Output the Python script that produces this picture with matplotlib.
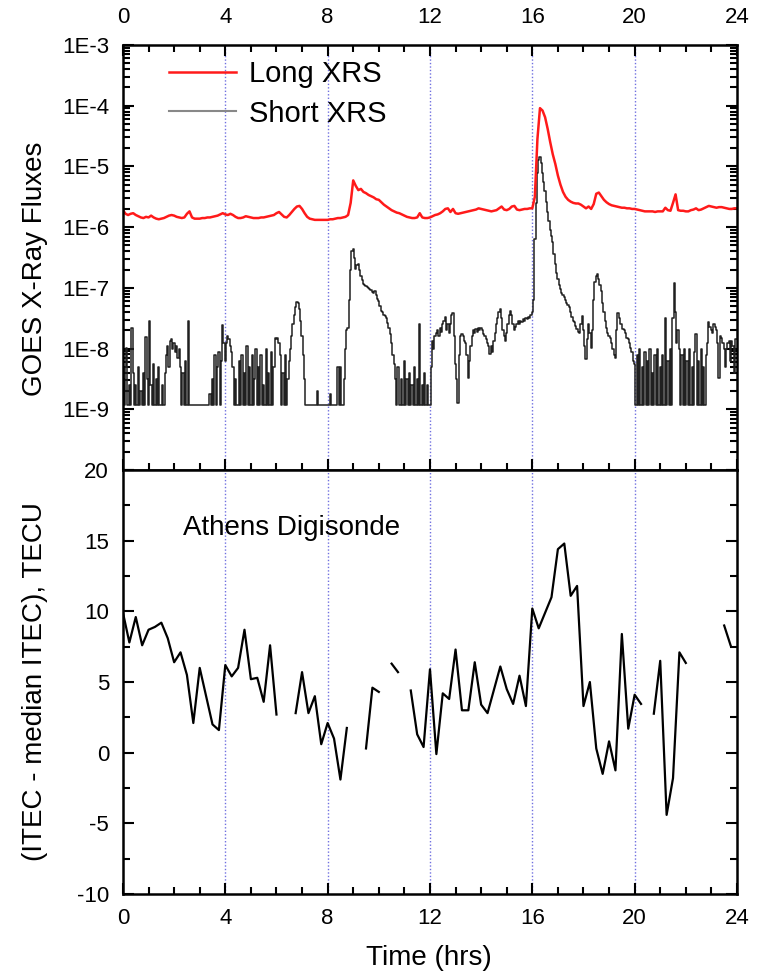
import numpy as np
import matplotlib
matplotlib.use('Agg')
import matplotlib.pyplot as plt
from matplotlib.lines import Line2D
from matplotlib.ticker import MultipleLocator, FixedLocator, FixedFormatter, LogLocator, NullFormatter

plt.rcParams['font.family'] = ['Liberation Sans', 'DejaVu Sans']
plt.rcParams['axes.unicode_minus'] = False

# GOES short channel, log10(flux), one value every 0.05 h (one row per hour)
short_log = [
    -8.5, -8.93, -8.3, -7.99, -8.93, -8.6, -8.93, -7.66, -8.4, -8.93, -8.6, -8.93, -8.3, -8.93, -8.7, -8.93, -8.4, -8.93, -7.81, -8.5,
    -8.93, -7.55, -8.6, -8.93, -8.25, -8.93, -8.5, -8.93, -8.3, -8.93, -8.93, -8.6, -8.93, -8.4, -8.1, -7.95, -8.3, -7.88, -7.84, -8.0,
    -7.9, -8.05, -7.95, -8.15, -8.0, -8.3, -8.93, -8.4, -8.93, -8.2, -8.93, -7.55, -8.93, -8.93, -8.93, -8.93, -8.93, -8.93, -8.93, -8.93,
    -8.93, -8.93, -8.93, -8.93, -8.93, -8.93, -8.93, -8.93, -8.75, -8.93, -8.5, -8.93, -8.1, -8.93, -8.3, -8.05, -8.93, -8.2, -7.61, -7.9,
    -8.2, -7.9, -7.8, -7.85, -7.95, -8.05, -8.3, -8.93, -8.5, -8.93, -8.93, -8.2, -8.93, -8.1, -8.93, -8.4, -8.93, -7.95, -8.93, -8.3,
    -8.93, -8.1, -8.93, -8.5, -8.0, -8.93, -8.3, -8.93, -8.1, -8.93, -8.6, -8.93, -8.0, -8.93, -8.4, -8.93, -8.05, -8.93, -8.3, -7.82,
    -7.85, -7.82, -7.9, -8.1, -8.93, -8.4, -8.93, -8.1, -8.93, -8.5, -8.2, -8.0, -7.8, -7.6, -7.45, -7.32, -7.24, -7.25, -7.35, -7.55,
    -7.8, -8.1, -8.5, -8.93, -8.93, -8.93, -8.93, -8.93, -8.93, -8.93, -8.93, -8.93, -8.7, -8.93, -8.93, -8.93, -8.93, -8.93, -8.93, -8.93,
    -8.93, -8.93, -8.75, -8.93, -8.93, -8.93, -8.93, -8.93, -8.3, -8.93, -8.3, -8.93, -8.93, -8.5, -8.0, -7.7, -7.66, -7.2, -6.7, -6.4,
    -6.36, -6.5, -6.69, -6.62, -6.6, -6.7, -6.8, -6.87, -6.93, -6.95, -6.97, -6.98, -7.0, -7.02, -7.04, -7.06, -7.08, -7.05, -7.12, -7.18,
    -7.22, -7.3, -7.38, -7.4, -7.44, -7.46, -7.5, -7.58, -7.66, -7.76, -7.9, -8.1, -8.25, -8.5, -8.93, -8.3, -8.93, -8.93, -8.5, -8.93,
    -8.2, -8.93, -8.5, -8.93, -8.4, -8.93, -8.6, -8.93, -8.3, -8.93, -8.5, -8.93, -7.59, -8.93, -8.6, -8.93, -8.4, -8.93, -8.6, -8.93,
    -8.93, -8.3, -7.87, -8.0, -7.8, -7.75, -7.7, -7.8, -7.66, -7.72, -7.6, -7.55, -7.48, -7.7, -7.6, -7.75, -7.6, -7.45, -7.41, -7.8,
    -8.25, -8.5, -8.9, -8.1, -7.8, -7.76, -7.8, -7.87, -7.9, -8.1, -8.48, -8.2, -7.95, -7.8, -7.7, -7.75, -7.68, -7.72, -7.66, -7.7,
    -7.66, -7.7, -7.76, -7.8, -7.85, -7.9, -7.95, -8.09, -7.95, -8.05, -7.87, -7.75, -7.6, -7.5, -7.4, -7.35, -7.5, -7.7, -7.8, -7.87,
    -7.75, -7.6, -7.45, -7.38, -7.45, -7.6, -7.7, -7.65, -7.6, -7.55, -7.6, -7.55, -7.57, -7.52, -7.55, -7.5, -7.52, -7.48, -7.5, -7.45,
    -7.4, -7.2, -6.2, -5.6, -5.1, -4.9, -4.84, -4.95, -5.1, -5.25, -5.4, -5.58, -5.75, -5.9, -6.05, -6.15, -6.25, -6.45, -6.6, -6.75,
    -6.85, -6.95, -7.02, -7.08, -7.12, -7.15, -7.2, -7.25, -7.28, -7.32, -7.4, -7.48, -7.55, -7.57, -7.62, -7.68, -7.72, -7.75, -7.6, -7.46,
    -7.7, -7.95, -8.17, -7.85, -7.6, -7.75, -7.99, -7.7, -7.2, -6.9, -6.8, -6.77, -6.85, -6.95, -7.05, -7.25, -7.4, -7.55, -7.66, -7.75,
    -7.8, -7.82, -7.9, -8.0, -8.1, -8.15, -7.7, -7.41, -7.5, -7.6, -7.6, -7.68, -7.7, -7.75, -7.82, -7.85, -7.9, -7.99, -8.05, -8.2,
    -8.25, -8.93, -8.1, -8.93, -8.0, -8.93, -8.3, -8.93, -8.05, -8.93, -8.2, -8.93, -8.0, -8.93, -8.4, -8.93, -8.1, -8.93, -8.0, -8.93,
    -8.3, -8.93, -8.1, -8.93, -7.49, -8.93, -8.2, -8.93, -8.0, -8.93, -7.5, -6.92, -7.4, -7.9, -7.7, -8.0, -8.93, -8.1, -8.93, -8.0,
    -8.93, -8.2, -8.93, -8.0, -8.93, -8.3, -8.93, -8.05, -7.76, -8.93, -8.2, -8.93, -8.0, -8.93, -8.3, -8.93, -8.1, -7.9, -7.57, -7.65,
    -7.7, -7.75, -7.6, -7.65, -7.7, -7.9, -8.48, -7.8, -7.82, -7.9, -8.0, -8.3, -8.0, -7.9, -7.87, -8.2, -7.87, -7.95, -8.4, -7.85,
    -7.85,
]

# GOES long channel, log10(flux), one value every 0.1 h
long_log = [
    -5.72, -5.78, -5.80, -5.78, -5.77, -5.80, -5.82, -5.84, -5.85, -5.83,
    -5.84, -5.81, -5.84, -5.86, -5.87, -5.86, -5.85, -5.83, -5.81, -5.80,
    -5.81, -5.83, -5.84, -5.85, -5.84, -5.78, -5.74, -5.84, -5.86, -5.86,
    -5.86, -5.85, -5.85, -5.84, -5.84, -5.83, -5.82, -5.81, -5.79, -5.77,
    -5.79, -5.80, -5.78, -5.80, -5.83, -5.85, -5.85, -5.84, -5.82, -5.83,
    -5.84, -5.85, -5.85, -5.85, -5.84, -5.84, -5.83, -5.82, -5.81, -5.80,
    -5.77, -5.75, -5.79, -5.83, -5.84, -5.80, -5.75, -5.70, -5.66, -5.65,
    -5.70, -5.77, -5.83, -5.86, -5.87, -5.88, -5.88, -5.88, -5.88, -5.88,
    -5.88, -5.87, -5.87, -5.86, -5.85, -5.85, -5.84, -5.83, -5.80, -5.60,
    -5.23, -5.32, -5.39, -5.37, -5.42, -5.44, -5.47, -5.49, -5.51, -5.54,
    -5.55, -5.59, -5.63, -5.66, -5.69, -5.72, -5.74, -5.76, -5.77, -5.79,
    -5.81, -5.83, -5.84, -5.85, -5.85, -5.84, -5.77, -5.84, -5.85, -5.85,
    -5.84, -5.82, -5.80, -5.79, -5.77, -5.74, -5.70, -5.69, -5.75, -5.70,
    -5.77, -5.78, -5.77, -5.76, -5.75, -5.74, -5.73, -5.72, -5.71, -5.69,
    -5.70, -5.71, -5.72, -5.73, -5.74, -5.73, -5.72, -5.69, -5.66, -5.71,
    -5.72, -5.70, -5.66, -5.65, -5.71, -5.72, -5.71, -5.70, -5.70, -5.69,
    -5.69, -5.50, -4.55, -4.04, -4.08, -4.19, -4.38, -4.60, -4.80, -4.96,
    -5.15, -5.30, -5.42, -5.50, -5.55, -5.58, -5.60, -5.61, -5.61, -5.63,
    -5.66, -5.69, -5.66, -5.70, -5.62, -5.45, -5.43, -5.49, -5.55, -5.59,
    -5.62, -5.64, -5.65, -5.66, -5.67, -5.68, -5.68, -5.69, -5.69, -5.70,
    -5.70, -5.71, -5.72, -5.73, -5.74, -5.74, -5.74, -5.74, -5.75, -5.74,
    -5.74, -5.74, -5.68, -5.72, -5.73, -5.60, -5.46, -5.72, -5.73, -5.73,
    -5.74, -5.74, -5.72, -5.71, -5.69, -5.72, -5.71, -5.69, -5.67, -5.65,
    -5.66, -5.67, -5.68, -5.67, -5.67, -5.68, -5.69, -5.70, -5.70, -5.69,
    -5.69,
]

# Athens Digisonde ITEC minus median, every 0.25 h (nan = no data)
nan = np.nan
itec = [
    9.9, 7.8, 9.6, 7.6, 8.7, 8.9, 9.2, 8.1,
    6.4, 7.1, 5.5, 2.1, 6.0, 4.0, 2.0, 1.6,
    6.2, 5.4, 6.0, 8.7, 5.2, 5.3, 3.6, 7.6,
    2.7, nan, nan, 2.8, 5.7, 2.8, 4.0, 0.6,
    2.1, 1.0, -1.9, 1.75, nan, nan, 0.3, 4.6,
    4.3, nan, 6.3, 5.7, nan, 4.4, 1.3, 0.4,
    5.9, -0.1, 4.2, 3.8, 7.3, 3.0, 3.0, 6.4,
    3.4, 2.8, 4.45, 6.1, 4.5, 3.45, 5.45, 3.3,
    10.2, 8.8, 9.9, 11.0, 14.4, 14.8, 11.1, 11.8,
    3.3, 5.0, 0.3, -1.5, 0.8, -1.25, 8.4, 1.7,
    4.1, 3.45, nan, 2.76, 6.5, -4.4, -1.8, 7.1,
    6.35, nan, nan, nan, nan, nan, 9.0, 7.6,
    nan,
]

t_short = np.linspace(0, 24, len(short_log))
t_long = np.linspace(0, 24, len(long_log))
t_itec = np.linspace(0, 24, len(itec))

hour_lines = [4, 8, 12, 16, 20]
flux_ticks = [1e-10, 1e-9, 1e-8, 1e-7, 1e-6, 1e-5, 1e-4, 1e-3]
flux_labels = ['', '1E-9', '1E-8', '1E-7', '1E-6', '1E-5', '1E-4', '1E-3']

fig = plt.figure(figsize=(7.6, 9.76), dpi=100)
ax1 = fig.add_axes([0.1618, 0.5184, 0.8079, 0.4355])
ax2 = fig.add_axes([0.1618, 0.0840, 0.8079, 0.4344])

for ax in (ax1, ax2):
    for h in hour_lines:
        ax.axvline(h, color='#7070e0', ls=(0, (1, 1.5)), lw=1.0, zorder=0)
    for s in ax.spines.values():
        s.set_linewidth(1.8)
    ax.set_xlim(0, 24)
    ax.xaxis.set_major_locator(MultipleLocator(4))
    ax.xaxis.set_minor_locator(MultipleLocator(1))

# top panel
ax1.plot(t_short, 10.0 ** np.array(short_log), color='#202020', lw=1.1, drawstyle='steps-mid')
ax1.plot(t_long, 10.0 ** np.array(long_log), color='#ff1a1a', lw=1.8)
ax1.set_yscale('log')
ax1.set_ylim(1e-10, 1e-3)
ax1.yaxis.set_major_locator(FixedLocator(flux_ticks))
ax1.yaxis.set_major_formatter(FixedFormatter(flux_labels))
ax1.yaxis.set_minor_locator(LogLocator(base=10, subs=np.arange(2, 10), numticks=20))
ax1.yaxis.set_minor_formatter(NullFormatter())
ax1.tick_params(which='both', direction='in', top=True, bottom=True, left=True, right=True,
                labeltop=True, labelbottom=False, labelsize=16, width=1.5)
ax1.tick_params(which='major', length=8)
ax1.tick_params(which='minor', length=5)
ax1.tick_params(axis='x', pad=12)
ax1.tick_params(axis='y', pad=10)

handles = [Line2D([], [], color='#ff1a1a', lw=1.8), Line2D([], [], color='#888888', lw=1.5)]
ax1.legend(handles, ['Long XRS', 'Short XRS'], loc='upper left', bbox_to_anchor=(0.075, 0.965),
           frameon=False, fontsize=21, handlelength=2.3, handletextpad=0.45,
           labelspacing=0.4, borderaxespad=0, borderpad=0)

# bottom panel
ax2.plot(t_itec, itec, color='black', lw=1.6)
ax2.set_ylim(-10, 20)
ax2.yaxis.set_major_locator(MultipleLocator(5))
ax2.yaxis.set_minor_locator(MultipleLocator(2.5))
ax2.tick_params(which='both', direction='in', top=False, bottom=True, left=True, right=True,
                labelsize=16, width=1.5)
ax2.tick_params(which='major', length=8)
ax2.tick_params(which='minor', length=5)
ax2.tick_params(axis='x', pad=10)
ax2.tick_params(axis='y', pad=10)
ax2.text(2.35, 15.9, 'Athens Digisonde', fontsize=20, va='center', ha='left')

fig.text(0.046, 0.7244, 'GOES X-Ray Fluxes', rotation=90, fontsize=20, ha='center', va='center')
fig.text(0.046, 0.3012, '(ITEC - median ITEC), TECU', rotation=90, fontsize=20, ha='center', va='center')
fig.text(0.5645, 0.0184, 'Time (hrs)', fontsize=20, ha='center', va='center')

fig.savefig('out.png', dpi=100)
